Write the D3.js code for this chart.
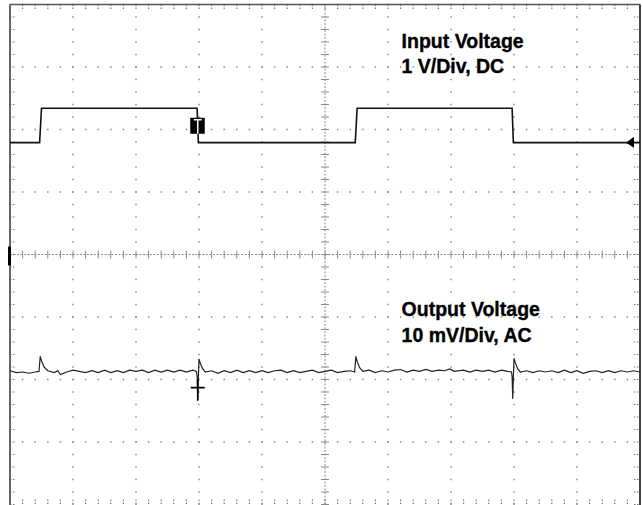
<!DOCTYPE html>
<html>
<head>
<meta charset="utf-8">
<script src="https://cdn.jsdelivr.net/npm/d3@7"></script>
<style>
  body { margin: 0; background: #fff; }
  svg { display: block; }
</style>
</head>
<body>
<svg id="scope" width="643" height="505"></svg>
<script>
// time in divisions (0..10), level in divisions (-4..4, 0 = centre line)
const inputTrace = [
  [0, 1.79], [0.47, 1.79], [0.50, 2.34], [2.97, 2.34], [2.99, 1.79],
  [5.48, 1.79], [5.51, 2.34], [7.97, 2.34], [7.99, 1.79], [10, 1.79]
];

const outputTrace = [
  [0.00, -1.86], [0.10, -1.89], [0.20, -1.88], [0.30, -1.90], [0.40, -1.88],
  [0.46, -1.87], [0.48, -1.63], [0.50, -1.70], [0.54, -1.80], [0.60, -1.86],
  [0.70, -1.89], [0.76, -1.86], [0.80, -1.92], [0.90, -1.88], [1.00, -1.85],
  [1.10, -1.87], [1.20, -1.89], [1.30, -1.86], [1.40, -1.89], [1.50, -1.85],
  [1.60, -1.89], [1.70, -1.86], [1.80, -1.89], [1.90, -1.85], [2.00, -1.87],
  [2.10, -1.85], [2.20, -1.89], [2.30, -1.85], [2.40, -1.88], [2.50, -1.85],
  [2.60, -1.88], [2.70, -1.85], [2.80, -1.88], [2.90, -1.85], [2.96, -1.87],
  [2.97, -1.95], [2.98, -2.33], [2.99, -1.98], [3.00, -1.67], [3.02, -1.74],
  [3.06, -1.83], [3.10, -1.88], [3.20, -1.86], [3.30, -1.90], [3.40, -1.86],
  [3.50, -1.89], [3.60, -1.85], [3.70, -1.89], [3.80, -1.86], [3.90, -1.89],
  [4.00, -1.86], [4.10, -1.89], [4.20, -1.86], [4.30, -1.85], [4.40, -1.89],
  [4.50, -1.86], [4.60, -1.89], [4.70, -1.87], [4.80, -1.85], [4.90, -1.89],
  [5.00, -1.87], [5.10, -1.85], [5.20, -1.89], [5.30, -1.87], [5.40, -1.86],
  [5.47, -1.88], [5.49, -1.63], [5.51, -1.71], [5.55, -1.81], [5.60, -1.87],
  [5.70, -1.85], [5.80, -1.89], [5.90, -1.86], [6.00, -1.88], [6.10, -1.85],
  [6.20, -1.84], [6.30, -1.88], [6.40, -1.85], [6.50, -1.87], [6.60, -1.84],
  [6.70, -1.87], [6.80, -1.85], [6.90, -1.86], [6.98, -1.83], [7.05, -1.87],
  [7.20, -1.85], [7.30, -1.88], [7.40, -1.85], [7.50, -1.87], [7.60, -1.85],
  [7.70, -1.88], [7.80, -1.85], [7.90, -1.87], [7.96, -1.88], [7.97, -1.95],
  [7.98, -2.31], [7.99, -1.97], [8.00, -1.66], [8.02, -1.73], [8.06, -1.83],
  [8.10, -1.88], [8.20, -1.86], [8.30, -1.89], [8.40, -1.86], [8.50, -1.88],
  [8.60, -1.86], [8.70, -1.89], [8.80, -1.85], [8.90, -1.89], [9.00, -1.86],
  [9.10, -1.90], [9.20, -1.87], [9.30, -1.86], [9.40, -1.89], [9.50, -1.86],
  [9.60, -1.89], [9.70, -1.86], [9.80, -1.88], [9.90, -1.86], [10.0, -1.88]
];

const labels = [
  { lines: ["Input Voltage", "1 V/Div, DC"], t: 6.2, v: 3.31 },
  { lines: ["Output Voltage", "10 mV/Div, AC"], t: 6.2, v: -0.99 }
];

const triggerT = 2.98, triggerLevel = 2.06;
const ch1Ground = 1.79;
const ch2Marker = 0.0;
const cursor = [2.98, -2.13];

const svg = d3.select("#scope");
const x = d3.scaleLinear().domain([0, 10]).range([10, 640]);
const y = d3.scaleLinear().domain([-4, 4]).range([504.5, 4.5]);

const minorX = d3.range(0, 50.5).map(i => i * 0.2);
const minorY = d3.range(0, 40.5).map(i => -4 + i * 0.2);
const grid = svg.append("g").attr("fill", "#8a8a8a");

// dotted graticule
d3.range(1, 10).filter(i => i !== 5).forEach(i => {
  grid.selectAll(null).data(minorY).enter().append("rect")
    .attr("x", x(i) - 0.75).attr("y", d => y(d) - 0.75)
    .attr("width", 1.5).attr("height", 1.5);
});
d3.range(-3, 4).filter(k => k !== 0).forEach(k => {
  grid.selectAll(null).data(minorX).enter().append("rect")
    .attr("x", d => x(d) - 0.75).attr("y", y(k) - 0.75)
    .attr("width", 1.5).attr("height", 1.5);
});

// centre axes with minor ticks
const axes = svg.append("g").attr("stroke", "#8a8a8a").attr("stroke-width", 1);
axes.append("line").attr("x1", x(0)).attr("x2", x(10)).attr("y1", y(0)).attr("y2", y(0))
  .attr("stroke-dasharray", "2,1.5");
axes.append("line").attr("x1", x(5)).attr("x2", x(5)).attr("y1", y(-4)).attr("y2", y(4))
  .attr("stroke-dasharray", "2,1.5");
axes.selectAll(null).data(minorX).enter().append("line")
  .attr("x1", d => x(d)).attr("x2", d => x(d)).attr("y1", y(0) - 4).attr("y2", y(0) + 4);
axes.selectAll(null).data(minorY).enter().append("line")
  .attr("x1", x(5) - 4).attr("x2", x(5) + 4).attr("y1", d => y(d)).attr("y2", d => y(d));

// border ticks
const edge = svg.append("g").attr("stroke", "#777").attr("stroke-width", 1.2)
  .attr("stroke-dasharray", "1.5,1.5");
edge.selectAll(null).data(minorX).enter().append("line")
  .attr("x1", d => x(d)).attr("x2", d => x(d)).attr("y1", y(4)).attr("y2", y(4) + 5);
edge.selectAll(null).data(minorX).enter().append("line")
  .attr("x1", d => x(d)).attr("x2", d => x(d)).attr("y1", y(-4) - 5).attr("y2", y(-4));
edge.selectAll(null).data(minorY).enter().append("line")
  .attr("x1", x(0)).attr("x2", x(0) + 6).attr("y1", d => y(d)).attr("y2", d => y(d));
edge.selectAll(null).data(minorY).enter().append("line")
  .attr("x1", x(10) - 6).attr("x2", x(10)).attr("y1", d => y(d)).attr("y2", d => y(d));

// frame
const frame = svg.append("g").attr("fill", "none");
frame.append("line").attr("x1", x(0)).attr("x2", x(10)).attr("y1", y(4)).attr("y2", y(4))
  .attr("stroke", "#555").attr("stroke-width", 1.5);
frame.append("line").attr("x1", x(0)).attr("x2", x(0)).attr("y1", y(4)).attr("y2", 505)
  .attr("stroke", "#666").attr("stroke-width", 2);
frame.append("line").attr("x1", x(10)).attr("x2", x(10)).attr("y1", y(4)).attr("y2", 505)
  .attr("stroke", "#444").attr("stroke-width", 2);

// traces
const line = d3.line().x(d => x(d[0])).y(d => y(d[1]));
svg.append("path").datum(inputTrace).attr("d", line)
  .attr("fill", "none").attr("stroke", "#111").attr("stroke-width", 1.6);
svg.append("path").datum(outputTrace).attr("d", line)
  .attr("fill", "none").attr("stroke", "#222").attr("stroke-width", 1.2);

// markers
const tx = x(triggerT), ty = y(triggerLevel);
svg.append("rect").attr("x", tx - 7.5).attr("y", ty - 8).attr("width", 14.5).attr("height", 16)
  .attr("fill", "#000");
svg.append("path")
  .attr("d", `M${tx - 4},${ty - 6}H${tx + 4}M${tx},${ty - 6}V${ty + 8}`)
  .attr("stroke", "#fff").attr("stroke-width", 1.5).attr("fill", "none");

const gy = y(ch1Ground);
svg.append("path")
  .attr("d", `M${x(10) - 14},${gy}L${x(10) - 6},${gy - 6}L${x(10) - 6},${gy + 5}Z`)
  .attr("fill", "#000");

svg.append("rect").attr("x", x(0) - 2).attr("y", y(ch2Marker) - 8).attr("width", 3).attr("height", 19)
  .attr("fill", "#000");

const cx = x(cursor[0]), cy = y(cursor[1]);
svg.append("path")
  .attr("d", `M${cx - 7},${cy}H${cx + 7}M${cx},${cy - 8}V${cy + 13}`)
  .attr("stroke", "#000").attr("stroke-width", 1.6).attr("fill", "none");

// captions
labels.forEach(l => {
  const t = svg.append("text")
    .attr("x", x(l.t) + 1).attr("y", y(l.v))
    .attr("font-family", "'Liberation Sans', Arial, sans-serif")
    .attr("font-weight", "bold").attr("font-size", 19.5).attr("fill", "#000")
    .attr("stroke", "#000").attr("stroke-width", 0.35);
  l.lines.forEach((s, i) => t.append("tspan").attr("x", x(l.t) + 1).attr("dy", i ? 25.5 : 0).text(s));
});
</script>
</body>
</html>
